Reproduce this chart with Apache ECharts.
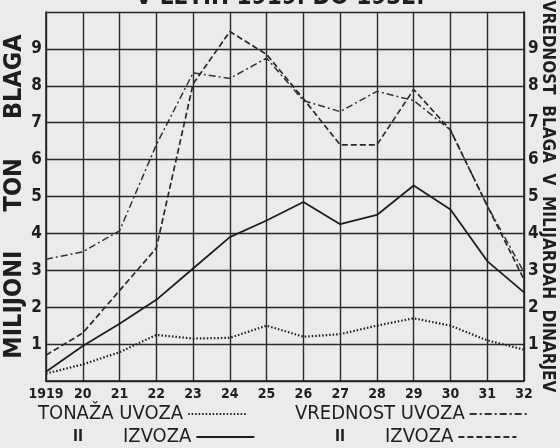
<!DOCTYPE html>
<html><head><meta charset="utf-8">
<script src="https://cdn.jsdelivr.net/npm/echarts@6/dist/echarts.min.js"></script>
<style>html,body{margin:0;padding:0;background:#ebebea}#c{width:560px;height:448px}</style>
</head><body><div id="c"></div>
<script>
var years = ['1919','20','21','22','23','24','25','26','27','28','29','30','31','32'];
var tonazaUvoza = [0.2,0.45,0.78,1.25,1.15,1.17,1.5,1.2,1.27,1.5,1.7,1.5,1.1,0.85];
var tonazaIzvoza = [0.25,0.95,1.55,2.2,3.05,3.9,4.35,4.85,4.25,4.5,5.3,4.65,3.25,2.4];
var vrednostUvoza = [3.3,3.5,4.07,6.4,8.35,8.2,8.75,7.6,7.3,7.85,7.6,6.8,4.75,2.95];
var vrednostIzvoza = [0.7,1.3,2.45,3.6,8.05,9.47,8.85,7.65,6.4,6.4,7.9,6.8,4.75,2.75];
var yTicks = ['','1','2','3','4','5','6','7','8','9',''];

var F = "'Liberation Sans Narrow','DejaVu Sans Condensed','Arial Narrow',sans-serif";
var ink = '#1e1e1e';
var chart = echarts.init(document.getElementById('c'));
function lg(name, left, top, label){
  return {data:[name], left:left, top:top, align:'right', itemWidth:58, itemHeight:12, itemGap:0,
    itemStyle:{opacity:0, borderWidth:0},
    formatter:function(){return label;},
    textStyle:{fontFamily:F, fontSize:20, color:ink, rich:{d:{fontFamily:F,fontSize:15,color:ink,fontWeight:'bold'}}}};
}
var lineCommon = {symbol:'none', showSymbol:false, smooth:false, z:3};
chart.setOption({
  backgroundColor:'#ebebea',
  animation:false,
  title:{text:'V LETIH 1919. DO 1932.', left:'center', top:-19,
    textStyle:{fontFamily:F, fontSize:24, fontWeight:'bold', color:ink}},
  grid:{left:46, right:36, top:12, bottom:67, outerBoundsMode:'none', containLabel:false},
  legend:[
    lg('TONAŽA UVOZA', 33, 399, 'TONAŽA UVOZA'),
    lg('TONAŽA IZVOZA', 68, 422, '{d|II}       IZVOZA'),
    lg('VREDNOST UVOZA', 290, 399, 'VREDNOST UVOZA'),
    lg('VREDNOST IZVOZA', 330, 422, '{d|II}       IZVOZA')
  ],
  xAxis:{type:'category', data:years, boundaryGap:false,
    axisLine:{show:true, lineStyle:{color:ink, width:1.5}},
    axisTick:{show:false},
    axisLabel:{fontFamily:F, fontSize:14, fontWeight:'bold', color:ink, margin:6, interval:0},
    splitLine:{show:true, lineStyle:{color:'#2a2a2a', width:1.4}}},
  yAxis:[
    {type:'value', min:0, max:10, interval:1, position:'left',
     name:'MILIJONI     TON     BLAGA', nameLocation:'middle', nameRotate:90, nameGap:19, nameMoveOverlap:false,
     nameTextStyle:{fontFamily:F, fontSize:25, fontWeight:'bold', color:ink},
     axisLine:{show:true, lineStyle:{color:ink, width:1.5}}, axisTick:{show:false},
     axisLabel:{fontFamily:F, fontSize:17, fontWeight:'bold', color:ink, margin:4,
       formatter:function(v){return yTicks[v]||'';}},
     splitLine:{show:true, lineStyle:{color:'#2a2a2a', width:1.4}}},
    {type:'value', min:0, max:10, interval:1, position:'right',
     name:'VREDNOST  BLAGA  V  MILIJARDAH  DINARJEV', nameLocation:'middle', nameRotate:-90, nameGap:15, nameMoveOverlap:false,
     nameTextStyle:{fontFamily:F, fontSize:17, fontWeight:'bold', color:ink},
     axisLine:{show:true, lineStyle:{color:ink, width:1.5}}, axisTick:{show:false},
     axisLabel:{fontFamily:F, fontSize:17, fontWeight:'bold', color:ink, margin:4,
       formatter:function(v){return yTicks[v]||'';}},
     splitLine:{show:false}}
  ],
  series:[
    Object.assign({name:'TONAŽA UVOZA', type:'line', data:tonazaUvoza,
      lineStyle:{color:ink, width:2.2, type:[1.5,2]}, itemStyle:{color:ink}}, lineCommon),
    Object.assign({name:'TONAŽA IZVOZA', type:'line', data:tonazaIzvoza,
      lineStyle:{color:ink, width:1.8, type:'solid'}, itemStyle:{color:ink}}, lineCommon),
    Object.assign({name:'VREDNOST UVOZA', type:'line', data:vrednostUvoza,
      lineStyle:{color:'#333', width:1.5, type:[7,3,2,3]}, itemStyle:{color:'#333'}}, lineCommon),
    Object.assign({name:'VREDNOST IZVOZA', type:'line', data:vrednostIzvoza,
      lineStyle:{color:'#2a2a2a', width:1.7, type:[6,3]}, itemStyle:{color:'#2a2a2a'}}, lineCommon)
  ]
});
</script></body></html>
